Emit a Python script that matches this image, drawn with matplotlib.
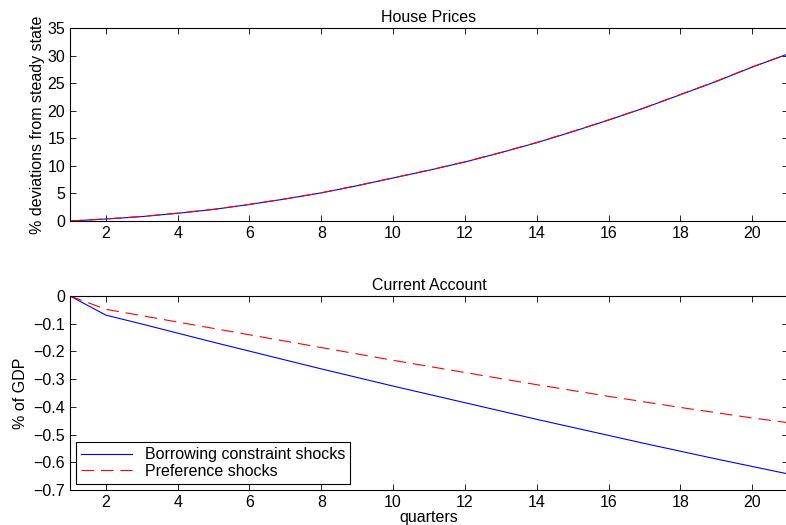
import matplotlib
matplotlib.use("Agg")
import matplotlib.pyplot as plt

plt.rcParams['font.family'] = ['Liberation Sans', 'DejaVu Sans']
plt.rcParams['lines.scale_dashes'] = False

quarters = list(range(1, 22))

# house prices, % deviations from steady state
hp_borrow = [0, 0.36, 0.8, 1.4, 2.1, 3.0, 4.0, 5.1, 6.4, 7.8, 9.2,
             10.7, 12.4, 14.2, 16.2, 18.3, 20.5, 22.9, 25.3, 27.9, 30.3]
hp_pref = [0, 0.38, 0.82, 1.42, 2.12, 3.02, 4.02, 5.12, 6.42, 7.82, 9.23,
           10.73, 12.43, 14.23, 16.23, 18.33, 20.53, 22.94, 25.35, 27.95, 30.25]

# current account, % of GDP
ca_borrow = [0, -0.069, -0.101, -0.134, -0.167, -0.199, -0.231, -0.263, -0.294, -0.325, -0.355,
             -0.385, -0.415, -0.445, -0.474, -0.503, -0.532, -0.560, -0.588, -0.615, -0.642]
ca_pref = [0, -0.048, -0.071, -0.094, -0.117, -0.140, -0.163, -0.186, -0.209, -0.232, -0.254,
           -0.276, -0.298, -0.320, -0.341, -0.362, -0.382, -0.402, -0.421, -0.440, -0.457]

fs = 11.5
fig = plt.figure(figsize=(7.86, 5.25), dpi=100)
ax1 = fig.add_axes([70/786, 1 - 221/525, 718/786, 193/525])
ax2 = fig.add_axes([70/786, 1 - 490/525, 718/786, 194/525])

ax1.plot(quarters, hp_borrow, color='blue', lw=0.8)
ax1.plot(quarters, hp_pref, color='red', lw=0.8, dashes=(9, 5))
ax1.set_ylim(0, 35)
ax1.set_yticks([0, 5, 10, 15, 20, 25, 30, 35])
ax1.set_title('House Prices', fontsize=fs, pad=4)
ax1.set_ylabel('% deviations from steady state', fontsize=fs, labelpad=2)

ax2.plot(quarters, ca_borrow, color='blue', lw=0.8, label='Borrowing constraint shocks')
ax2.plot(quarters, ca_pref, color='red', lw=0.8, dashes=(9, 5), label='Preference shocks')
ax2.set_ylim(-0.7, 0)
ax2.set_yticks([-0.7, -0.6, -0.5, -0.4, -0.3, -0.2, -0.1, 0])
ax2.set_yticklabels(['\u22120.7', '\u22120.6', '\u22120.5', '\u22120.4', '\u22120.3',
                     '\u22120.2', '\u22120.1', '0'])
ax2.set_title('Current Account', fontsize=fs, pad=4)
ax2.set_ylabel('% of GDP', fontsize=fs, labelpad=4)
ax2.set_xlabel('quarters', fontsize=fs, labelpad=0)
leg = ax2.legend(loc='lower left', fontsize=fs, frameon=True, fancybox=False,
                 edgecolor='black', framealpha=1, handlelength=3.2,
                 borderpad=0.3, labelspacing=0.1, borderaxespad=0.4)
leg.get_frame().set_linewidth(0.8)

for ax in (ax1, ax2):
    ax.set_xlim(1, 21)
    ax.set_xticks([2, 4, 6, 8, 10, 12, 14, 16, 18, 20])
    ax.tick_params(direction='in', top=True, right=True, labelsize=fs, length=4, width=0.6)
    for s in ax.spines.values():
        s.set_linewidth(0.8)

fig.savefig('out.png', dpi=100)
